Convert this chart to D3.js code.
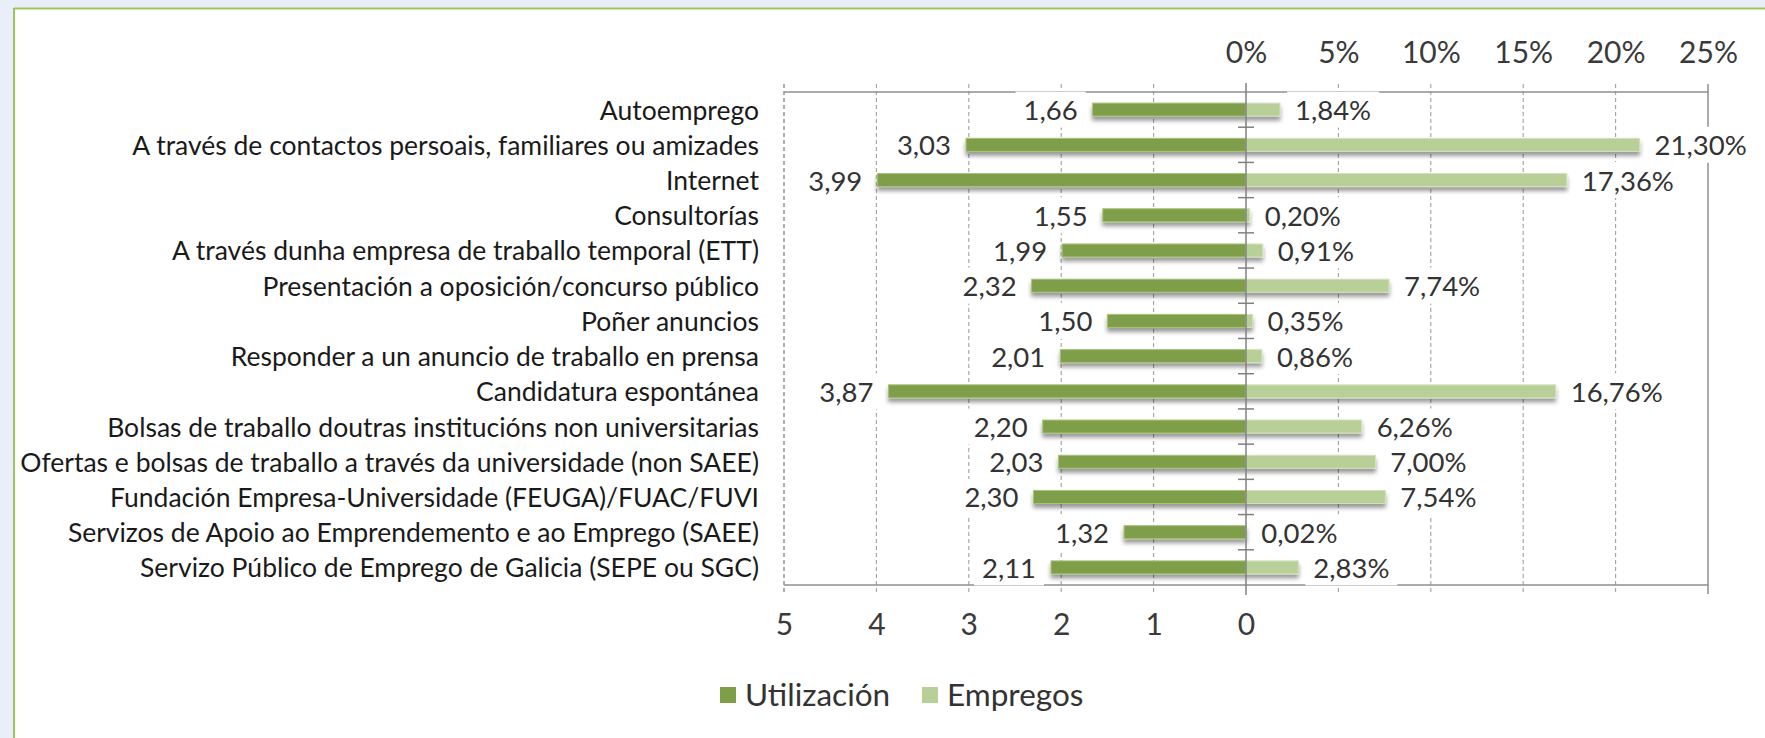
<!DOCTYPE html>
<html>
<head>
<meta charset="utf-8">
<script src="https://cdn.jsdelivr.net/npm/d3@7"></script>
<style>
  html, body { margin: 0; padding: 0; background: #e9eef8; }
  svg { display: block; }
  text { font-family: Lato, "Open Sans", sans-serif; }
</style>
</head>
<body>
<svg id="chart" width="1765" height="738"></svg>
<script>
const categories = [
  "Autoemprego",
  "A través de contactos persoais, familiares ou amizades",
  "Internet",
  "Consultorías",
  "A través dunha empresa de traballo temporal (ETT)",
  "Presentación a oposición/concurso público",
  "Poñer anuncios",
  "Responder a un anuncio de traballo en prensa",
  "Candidatura espontánea",
  "Bolsas de traballo doutras institucións non universitarias",
  "Ofertas e bolsas de traballo a través da universidade (non SAEE)",
  "Fundación Empresa-Universidade (FEUGA)/FUAC/FUVI",
  "Servizos de Apoio ao Emprendemento e ao Emprego (SAEE)",
  "Servizo Público de Emprego de Galicia (SEPE ou SGC)"
];
const utilizacion = [1.66, 3.03, 3.99, 1.55, 1.99, 2.32, 1.50, 2.01, 3.87, 2.20, 2.03, 2.30, 1.32, 2.11];
const empregos = [1.84, 21.30, 17.36, 0.20, 0.91, 7.74, 0.35, 0.86, 16.76, 6.26, 7.00, 7.54, 0.02, 2.83];
const utilTicks = [5, 4, 3, 2, 1, 0];
const pctTicks = [0, 5, 10, 15, 20, 25];
const seriesNames = ["Utilización", "Empregos"];
const colors = ["#7f9e48", "#b8cf97"];

const svg = d3.select("#chart");
const W = 1765, H = 738;
const L = 784, C = 1246, R = 1708, T = 92, B = 585;

const loc = d3.formatLocale({decimal: ",", thousands: ".", grouping: [3], currency: ["", "€"]});
const f2 = loc.format(".2f");
const f0 = loc.format("d");

// panel
svg.append("rect").attr("x", 0).attr("y", 0).attr("width", W).attr("height", H).attr("fill", "#e9eef8");
svg.append("rect").attr("x", 14).attr("y", 9).attr("width", W - 14).attr("height", H - 9).attr("fill", "#ffffff");
svg.append("line").attr("x1", 14).attr("x2", W).attr("y1", 8.5).attr("y2", 8.5).attr("stroke", "#9cc65c").attr("stroke-width", 2);
svg.append("line").attr("x1", 14).attr("x2", 14).attr("y1", 8).attr("y2", H).attr("stroke", "#9cc65c").attr("stroke-width", 2);

const defs = svg.append("defs");
const flt = defs.append("filter").attr("id", "sh").attr("x", "-5%").attr("y", "-50%").attr("width", "110%").attr("height", "250%");
flt.append("feDropShadow").attr("dx", 0).attr("dy", 4).attr("stdDeviation", 2).attr("flood-color", "#000").attr("flood-opacity", 0.4);

const xL = d3.scaleLinear().domain([5, 0]).range([L, C]);
const xR = d3.scaleLinear().domain([0, 25]).range([C, R]);
const y = d3.scaleBand().domain(categories).range([T, B]).paddingInner(0).paddingOuter(0);
const barH = 13;

// gridlines (dashed)
const gl = svg.append("g");
utilTicks.filter(t => t !== 0).forEach(t => {
  gl.append("line").attr("x1", xL(t)).attr("x2", xL(t)).attr("y1", T - 8).attr("y2", B + 9)
    .attr("stroke", "#a0a0a0").attr("stroke-width", 1.1).attr("stroke-dasharray", "4,3");
});
pctTicks.filter(t => t !== 0 && t !== 25).forEach(t => {
  gl.append("line").attr("x1", xR(t)).attr("x2", xR(t)).attr("y1", T - 8).attr("y2", B + 9)
    .attr("stroke", "#a0a0a0").attr("stroke-width", 1.1).attr("stroke-dasharray", "4,3");
});
// right edge solid
gl.append("line").attr("x1", R).attr("x2", R).attr("y1", T - 8).attr("y2", B + 9).attr("stroke", "#8f8f8f").attr("stroke-width", 1.5);
// top and bottom axis lines
gl.append("line").attr("x1", L).attr("x2", R).attr("y1", T).attr("y2", T).attr("stroke", "#8f8f8f").attr("stroke-width", 1.5);
gl.append("line").attr("x1", L).attr("x2", R).attr("y1", B).attr("y2", B).attr("stroke", "#8f8f8f").attr("stroke-width", 1.5);

// axis labels via d3 axes
const axTop = svg.append("g").attr("transform", `translate(0,${T - 26})`)
  .call(d3.axisTop(xR).tickValues(pctTicks).tickFormat(d => f0(d) + "%").tickSize(0));
axTop.select(".domain").remove();
axTop.selectAll("text").attr("font-size", 30).attr("fill", "#3a3a3a").attr("font-family", "Lato");

const axBot = svg.append("g").attr("transform", `translate(0,${B + 26})`)
  .call(d3.axisBottom(xL).tickValues(utilTicks).tickFormat(d => f0(d)).tickSize(0));
axBot.select(".domain").remove();
axBot.selectAll("text").attr("font-size", 30).attr("fill", "#3a3a3a").attr("font-family", "Lato");

// category labels
svg.append("g").selectAll("text").data(categories).join("text")
  .attr("x", 759).attr("y", d => y(d) + y.bandwidth() / 2)
  .attr("text-anchor", "end").attr("dominant-baseline", "central")
  .attr("font-size", 26.5).attr("fill", "#1a1a1a").text(d => d);

// value labels (left & right) with white boxes
const lblBoxes = svg.append("g");
const lblTexts = svg.append("g");
const gap = 15;
const leftLbl = lblTexts.selectAll("text.l").data(utilizacion).join("text").attr("class", "l")
  .attr("x", d => xL(d) - gap).attr("y", (d, i) => y(categories[i]) + y.bandwidth() / 2)
  .attr("text-anchor", "end").attr("dominant-baseline", "central")
  .attr("font-size", 27.5).attr("fill", "#333").text(d => f2(d));
const rightLbl = lblTexts.selectAll("text.r").data(empregos).join("text").attr("class", "r")
  .attr("x", d => xR(d) + gap).attr("y", (d, i) => y(categories[i]) + y.bandwidth() / 2)
  .attr("text-anchor", "start").attr("dominant-baseline", "central")
  .attr("font-size", 27.5).attr("fill", "#333").text(d => f2(d) + "%");
[leftLbl, rightLbl].forEach(sel => sel.each(function () {
  const bb = this.getBBox();
  const cy = bb.y + bb.height / 2;
  lblBoxes.append("rect").attr("x", bb.x - 8).attr("y", cy - 18).attr("width", bb.width + 16).attr("height", 36).attr("fill", "#fff");
}));

// bars
const bars = svg.append("g").attr("filter", "url(#sh)");
bars.selectAll("rect.u").data(utilizacion).join("rect").attr("class", "u")
  .attr("x", d => xL(d)).attr("width", d => C - xL(d))
  .attr("y", (d, i) => y(categories[i]) + (y.bandwidth() - barH) / 2).attr("height", barH)
  .attr("fill", colors[0]).attr("stroke", "#a8c27a").attr("stroke-width", 1);
bars.selectAll("rect.e").data(empregos).join("rect").attr("class", "e")
  .attr("x", C).attr("width", d => xR(d) - C)
  .attr("y", (d, i) => y(categories[i]) + (y.bandwidth() - barH) / 2).attr("height", barH)
  .attr("fill", colors[1]).attr("stroke", "#d3e2bd").attr("stroke-width", 1);

// left dashed edge
svg.append("line").attr("x1", L).attr("x2", L).attr("y1", T - 8).attr("y2", B + 9)
  .attr("stroke", "#9a9a9a").attr("stroke-width", 1.2).attr("stroke-dasharray", "4,3");

// center axis line and category ticks
svg.append("line").attr("x1", C).attr("x2", C).attr("y1", T - 9).attr("y2", B + 10).attr("stroke", "#808080").attr("stroke-width", 1.5);
svg.append("g").selectAll("line").data(categories.slice(1)).join("line")
  .attr("x1", C - 8).attr("x2", C + 8).attr("y1", d => y(d)).attr("y2", d => y(d))
  .attr("stroke", "#808080").attr("stroke-width", 1.5);

lblTexts.raise();

// legend
const lg = svg.append("g");
const legX = [720, 922];
seriesNames.forEach((n, i) => {
  lg.append("rect").attr("x", legX[i]).attr("y", 687).attr("width", 16).attr("height", 16).attr("fill", colors[i]);
  lg.append("text").attr("x", legX[i] + 25).attr("y", 694).attr("dominant-baseline", "central")
    .attr("font-size", 31.5).attr("fill", "#333").text(n);
});
</script>
</body>
</html>
